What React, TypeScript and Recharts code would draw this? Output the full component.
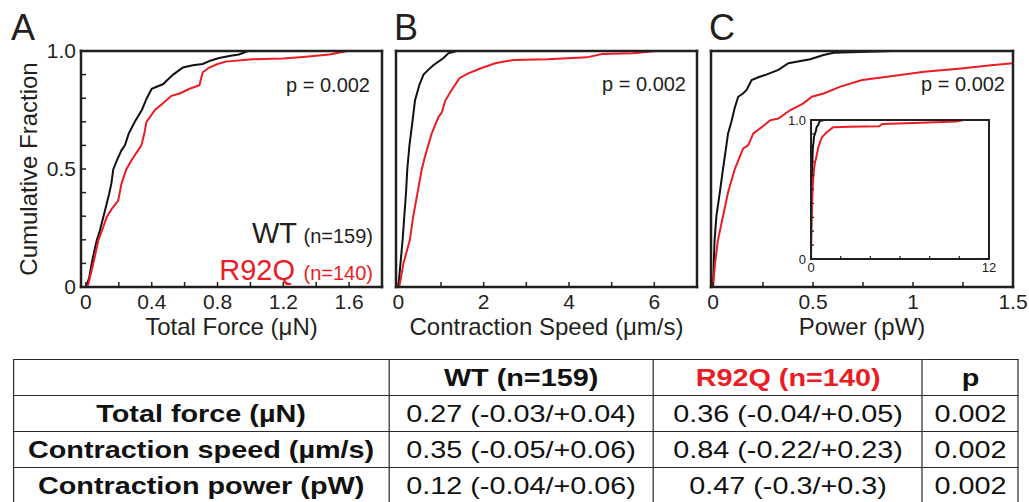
import React from 'react';
import { LineChart, Line, XAxis, YAxis, Label } from 'recharts';

const INK = '#231f20';
const RED = '#ec1c24';
const FONT = '"Liberation Sans", Arial, Helvetica, sans-serif';

type Pt = { v: number; f: number };

// cumulative fraction: v = value, f = fraction
const forceWT: Pt[] = [
  { v: 0, f: 0 }, { v: 0.02, f: 0.04 }, { v: 0.034, f: 0.097 }, { v: 0.05, f: 0.15 },
  { v: 0.065, f: 0.196 }, { v: 0.085, f: 0.24 }, { v: 0.105, f: 0.295 }, { v: 0.125, f: 0.35 },
  { v: 0.141, f: 0.394 }, { v: 0.155, f: 0.44 }, { v: 0.166, f: 0.498 }, { v: 0.19, f: 0.54 },
  { v: 0.216, f: 0.579 }, { v: 0.237, f: 0.6 }, { v: 0.26, f: 0.65 }, { v: 0.297, f: 0.7 },
  { v: 0.34, f: 0.75 }, { v: 0.37, f: 0.8 }, { v: 0.4, f: 0.84 }, { v: 0.47, f: 0.86 },
  { v: 0.5, f: 0.88 }, { v: 0.53, f: 0.9 }, { v: 0.59, f: 0.93 }, { v: 0.65, f: 0.94 },
  { v: 0.71, f: 0.945 }, { v: 0.76, f: 0.96 }, { v: 0.81, f: 0.97 }, { v: 0.88, f: 0.98 },
  { v: 0.93, f: 0.985 }, { v: 0.985, f: 1.0 }, { v: 1.05, f: 1.0 },
];
const forceR92Q: Pt[] = [
  { v: 0, f: 0 }, { v: 0.014, f: 0.011 }, { v: 0.044, f: 0.097 }, { v: 0.075, f: 0.196 },
  { v: 0.105, f: 0.253 }, { v: 0.125, f: 0.295 }, { v: 0.156, f: 0.33 }, { v: 0.196, f: 0.366 },
  { v: 0.216, f: 0.437 }, { v: 0.245, f: 0.498 }, { v: 0.28, f: 0.54 }, { v: 0.317, f: 0.579 },
  { v: 0.337, f: 0.6 }, { v: 0.355, f: 0.65 }, { v: 0.368, f: 0.7 }, { v: 0.42, f: 0.75 },
  { v: 0.47, f: 0.78 }, { v: 0.52, f: 0.81 }, { v: 0.57, f: 0.82 }, { v: 0.63, f: 0.84 },
  { v: 0.69, f: 0.855 }, { v: 0.71, f: 0.91 }, { v: 0.75, f: 0.93 }, { v: 0.8, f: 0.945 },
  { v: 0.85, f: 0.955 }, { v: 1.01, f: 0.965 }, { v: 1.2, f: 0.968 }, { v: 1.32, f: 0.975 },
  { v: 1.48, f: 0.985 }, { v: 1.59, f: 1.0 },
];

const speedWT: Pt[] = [
  { v: 0, f: 0 }, { v: 0.05, f: 0.1 }, { v: 0.1, f: 0.2 }, { v: 0.14, f: 0.3 },
  { v: 0.18, f: 0.4 }, { v: 0.21, f: 0.5 }, { v: 0.26, f: 0.6 }, { v: 0.33, f: 0.7 },
  { v: 0.39, f: 0.79 }, { v: 0.49, f: 0.855 }, { v: 0.59, f: 0.9 }, { v: 0.7, f: 0.92 },
  { v: 0.82, f: 0.94 }, { v: 1.06, f: 0.97 }, { v: 1.17, f: 0.99 }, { v: 1.37, f: 1.0 },
  { v: 3.05, f: 1.0 },
];
const speedR92Q: Pt[] = [
  { v: 0.02, f: 0 }, { v: 0.12, f: 0.1 }, { v: 0.27, f: 0.2 }, { v: 0.35, f: 0.3 },
  { v: 0.45, f: 0.4 }, { v: 0.55, f: 0.5 }, { v: 0.62, f: 0.55 }, { v: 0.7, f: 0.6 },
  { v: 0.78, f: 0.65 }, { v: 0.94, f: 0.72 }, { v: 1.02, f: 0.74 }, { v: 1.1, f: 0.79 },
  { v: 1.25, f: 0.835 }, { v: 1.43, f: 0.885 }, { v: 1.64, f: 0.905 }, { v: 1.92, f: 0.926 },
  { v: 2.27, f: 0.948 }, { v: 2.7, f: 0.962 }, { v: 3.5, f: 0.965 }, { v: 4.42, f: 0.973 },
  { v: 4.77, f: 0.987 }, { v: 5.5, f: 0.99 }, { v: 6.03, f: 1.0 },
];

const powerWT: Pt[] = [
  { v: 0, f: 0 }, { v: 0.004, f: 0.1 }, { v: 0.008, f: 0.2 }, { v: 0.017, f: 0.3 },
  { v: 0.034, f: 0.4 }, { v: 0.05, f: 0.5 }, { v: 0.067, f: 0.6 }, { v: 0.075, f: 0.65 },
  { v: 0.092, f: 0.7 }, { v: 0.109, f: 0.76 }, { v: 0.126, f: 0.806 }, { v: 0.15, f: 0.82 },
  { v: 0.168, f: 0.835 }, { v: 0.193, f: 0.877 }, { v: 0.23, f: 0.89 }, { v: 0.26, f: 0.898 },
  { v: 0.327, f: 0.92 }, { v: 0.377, f: 0.948 }, { v: 0.486, f: 0.965 }, { v: 0.553, f: 0.983 },
  { v: 0.603, f: 0.993 }, { v: 0.9, f: 1.0 }, { v: 7.5, f: 1.0 },
];
const powerR92Q: Pt[] = [
  { v: 0, f: 0 }, { v: 0.01, f: 0.1 }, { v: 0.025, f: 0.2 }, { v: 0.05, f: 0.3 },
  { v: 0.075, f: 0.4 }, { v: 0.109, f: 0.5 }, { v: 0.151, f: 0.587 }, { v: 0.176, f: 0.6 },
  { v: 0.201, f: 0.65 }, { v: 0.251, f: 0.682 }, { v: 0.285, f: 0.706 }, { v: 0.327, f: 0.714 },
  { v: 0.385, f: 0.749 }, { v: 0.452, f: 0.778 }, { v: 0.494, f: 0.806 }, { v: 0.553, f: 0.82 },
  { v: 0.637, f: 0.849 }, { v: 0.746, f: 0.877 }, { v: 0.871, f: 0.891 }, { v: 1.056, f: 0.912 },
  { v: 1.24, f: 0.926 }, { v: 1.39, f: 0.94 }, { v: 1.5, f: 0.948 }, { v: 2.6, f: 0.952 },
  { v: 4.6, f: 0.955 }, { v: 4.8, f: 0.971 }, { v: 7.4, f: 0.98 }, { v: 9.8, f: 0.99 },
  { v: 10.3, f: 1.0 },
];

const fracTicks = [0, 0.1, 0.2, 0.3, 0.4, 0.5, 0.6, 0.7, 0.8, 0.9, 1];
const forceTicks = [0, 0.2, 0.4, 0.6, 0.8, 1.0, 1.2, 1.4, 1.6];
const forceLabels = [0, 0.4, 0.8, 1.2, 1.6];
const speedTicks = [0, 1, 2, 3, 4, 5, 6];
const speedLabels = [0, 2, 4, 6];
const powerTicks = [0, 0.25, 0.5, 0.75, 1, 1.25, 1.5];
const powerLabels = [0, 0.5, 1, 1.5];
const insetTicks = [0, 2, 4, 6, 8, 10, 12];
const insetLabels = [0, 12];

const tableHead = ['', 'WT (n=159)', 'R92Q (n=140)', 'p'];
const tableRows = [
  ['Total force (µN)', '0.27 (-0.03/+0.04)', '0.36 (-0.04/+0.05)', '0.002'],
  ['Contraction speed (µm/s)', '0.35 (-0.05/+0.06)', '0.84 (-0.22/+0.23)', '0.002'],
  ['Contraction power (pW)', '0.12 (-0.04/+0.06)', '0.47 (-0.3/+0.3)', '0.002'],
];

const boxLine = { stroke: INK, strokeWidth: 2.5, strokeLinecap: 'square' as const };
const tickLine = { stroke: INK, strokeWidth: 1.5 };

interface PanelProps {
  left: number;
  boxW: number;
  wt: Pt[];
  r92q: Pt[];
  domain: [number, number];
  xTicks: number[];
  xLabels: number[];
  title: string;
  yLabels?: boolean;
}

const Panel: React.FC<PanelProps> = ({ left, boxW, wt, r92q, domain, xTicks, xLabels, title, yLabels }) => {
  const yW = yLabels ? 81 : 16;
  const w = yW + boxW + 16;
  const fmtX = (v: number) => (xLabels.includes(v) ? String(v) : '');
  const fmtY = (v: number) => (v === 1 ? '1.0' : v === 0.5 ? '0.5' : v === 0 ? '0' : '');
  const tickFont = { fontSize: 21, fill: INK, fontFamily: FONT };
  return (
    <div style={{ position: 'absolute', left: left - yW, top: 40 }}>
      <LineChart width={w} height={300} margin={{ top: 10, right: 15, left: 0, bottom: 0 }}>
        <XAxis
          xAxisId={0}
          dataKey="v"
          type="number"
          domain={domain}
          allowDataOverflow
          ticks={xTicks}
          interval={0}
          tickFormatter={fmtX}
          tick={tickFont}
          tickSize={-5}
          tickMargin={12}
          axisLine={boxLine}
          tickLine={tickLine}
          height={53}
        >
          <Label value={title} position="insideBottom" offset={5} style={{ fontSize: 24, fill: INK, fontFamily: FONT }} />
        </XAxis>
        <XAxis
          xAxisId="top"
          orientation="top"
          dataKey="v"
          type="number"
          domain={domain}
          allowDataOverflow
          ticks={xTicks}
          interval={0}
          tick={false}
          tickSize={-5}
          axisLine={boxLine}
          tickLine={tickLine}
          height={1}
        />
        <YAxis
          yAxisId={0}
          type="number"
          domain={[0, 1]}
          allowDataOverflow
          ticks={fracTicks}
          interval={0}
          tickFormatter={fmtY}
          tick={yLabels ? tickFont : false}
          tickSize={-5}
          tickMargin={10}
          axisLine={boxLine}
          tickLine={tickLine}
          width={yW}
        />
        <YAxis
          yAxisId="right"
          orientation="right"
          type="number"
          domain={[0, 1]}
          allowDataOverflow
          ticks={fracTicks}
          interval={0}
          tick={false}
          tickSize={-5}
          axisLine={boxLine}
          tickLine={tickLine}
          width={1}
        />
        <Line data={wt} dataKey="f" type="linear" stroke="#111" strokeWidth={2} dot={false} isAnimationActive={false} />
        <Line data={r92q} dataKey="f" type="linear" stroke={RED} strokeWidth={2} dot={false} isAnimationActive={false} />
      </LineChart>
    </div>
  );
};

const Inset: React.FC = () => {
  const fmtX = (v: number) => (insetLabels.includes(v) ? String(v) : '');
  const fmtY = (v: number) => (v === 1 ? '1.0' : v === 0 ? '0' : '');
  const font = { fontSize: 13, fill: INK, fontFamily: FONT };
  const line = { stroke: INK, strokeWidth: 2, strokeLinecap: 'square' as const };
  const tl = { stroke: INK, strokeWidth: 1.2 };
  return (
    <div style={{ position: 'absolute', left: 789, top: 111 }}>
      <LineChart width={211} height={166} margin={{ top: 8, right: 10, left: 0, bottom: 0 }}>
        <XAxis xAxisId={0} dataKey="v" type="number" domain={[0, 12]} allowDataOverflow ticks={insetTicks} interval={0}
          tickFormatter={fmtX} tick={font} tickSize={-3} tickMargin={7} axisLine={line} tickLine={tl} height={18} />
        <XAxis xAxisId="top" orientation="top" dataKey="v" type="number" domain={[0, 12]} allowDataOverflow ticks={insetTicks}
          interval={0} tick={false} tickSize={-3} axisLine={line} tickLine={tl} height={1} />
        <YAxis yAxisId={0} type="number" domain={[0, 1]} allowDataOverflow ticks={fracTicks} interval={0}
          tickFormatter={fmtY} tick={font} tickSize={-3} tickMargin={8} axisLine={line} tickLine={tl} width={22} />
        <YAxis yAxisId="right" orientation="right" type="number" domain={[0, 1]} allowDataOverflow ticks={fracTicks}
          interval={0} tick={false} tickSize={-3} axisLine={line} tickLine={tl} width={1} />
        <Line data={powerWT} dataKey="f" type="linear" stroke="#111" strokeWidth={2} dot={false} isAnimationActive={false} />
        <Line data={powerR92Q} dataKey="f" type="linear" stroke={RED} strokeWidth={2} dot={false} isAnimationActive={false} />
      </LineChart>
    </div>
  );
};

// the table's lettering in the picture is drawn wider than it is tall, so it is laid out narrow and stretched
const STRETCH = 1.2;
const cellBorder = '1.3px solid #2a2a2a';
const colW = [375, 265, 269, 96];

export default function App() {
  return (
    <div style={{ position: 'absolute', left: 0, top: 0, width: 1029, height: 502, background: '#fff', overflow: 'hidden', fontFamily: FONT }}>
      <Panel left={81} boxW={301} wt={forceWT} r92q={forceR92Q} domain={[-0.03, 1.8]} xTicks={forceTicks} xLabels={forceLabels} title="Total Force (μN)" yLabels />
      <Panel left={396} boxW={301} wt={speedWT} r92q={speedR92Q} domain={[-0.055, 7]} xTicks={speedTicks} xLabels={speedLabels} title="Contraction Speed (μm/s)" />
      <Panel left={711} boxW={302} wt={powerWT} r92q={powerR92Q} domain={[-0.01, 1.5]} xTicks={powerTicks} xLabels={powerLabels} title="Power (pW)" />
      <Inset />
      <svg width={1029} height={350} style={{ position: 'absolute', left: 0, top: 0, pointerEvents: 'none' }} fontFamily={FONT}>
        <text x={11} y={40} fontSize={36} fill={INK}>A</text>
        <text x={394} y={40} fontSize={36} fill={INK}>B</text>
        <text x={709} y={40} fontSize={36} fill={INK}>C</text>
        <text x={37} y={169} fontSize={24} fill={INK} textAnchor="middle" transform="rotate(-90 37 169)">Cumulative Fraction</text>
        <text x={370} y={92} fontSize={20} fill={INK} textAnchor="end">p = 0.002</text>
        <text x={686} y={91} fontSize={20} fill={INK} textAnchor="end">p = 0.002</text>
        <text x={1005} y={91} fontSize={20} fill={INK} textAnchor="end">p = 0.002</text>
        <text x={297} y={243} fontSize={29} fill={INK} textAnchor="end">WT</text>
        <text x={373} y={243} fontSize={20} fill={INK} textAnchor="end">(n=159)</text>
        <text x={295} y={280} fontSize={29} fill={RED} textAnchor="end">R92Q</text>
        <text x={373} y={280} fontSize={20} fill={RED} textAnchor="end">(n=140)</text>
      </svg>
      <table
        style={{
          position: 'absolute', left: 13, top: 359, borderCollapse: 'collapse', tableLayout: 'fixed',
          width: 1005 / STRETCH, fontSize: 24, color: '#111', transform: `scaleX(${STRETCH})`, transformOrigin: '0 0',
        }}
      >
        <colgroup>
          {colW.map((w, i) => <col key={i} style={{ width: w / STRETCH }} />)}
        </colgroup>
        <tbody>
          <tr style={{ height: 36 }}>
            {tableHead.map((h, i) => (
              <td key={i} style={{ border: cellBorder, padding: 0, textAlign: 'center', fontWeight: 'bold', color: i === 2 ? RED : '#111' }}>{h}</td>
            ))}
          </tr>
          {tableRows.map((row, r) => (
            <tr key={r} style={{ height: 36 }}>
              {row.map((c, i) => (
                <td key={i} style={{ border: cellBorder, padding: 0, textAlign: 'center', fontWeight: i === 0 ? 'bold' : 'normal' }}>{c}</td>
              ))}
            </tr>
          ))}
        </tbody>
      </table>
    </div>
  );
}
